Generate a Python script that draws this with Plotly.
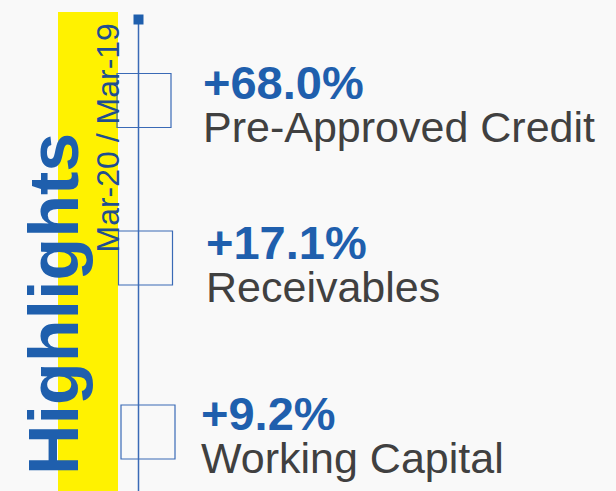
import plotly.graph_objects as go

# ---- data ----
categories = ["Pre-Approved Credit", "Receivables", "Working Capital"]
growth_pct = [68.0, 17.1, 9.2]
period_label = "Mar-20 / Mar-19"
title_text = "Highlights"

# ---- layout positions (pixel space) ----
W, H = 616, 491
box_x = [144, 145.5, 148]
box_y = [100.5, 258, 432]
block_y = [103, 263, 434]
text_x = [201, 204, 199]

BLUE = "#1F5FAD"
LINE_BLUE = "#3A6AB6"
GREY = "#404040"
FONT = "Liberation Sans, Arial, sans-serif"

fig = go.Figure()

# timeline line
fig.add_trace(go.Scatter(x=[138.5, 138.5], y=[19, H], mode="lines",
                         line=dict(color=LINE_BLUE, width=1.5),
                         hoverinfo="skip", showlegend=False))
# top marker
fig.add_trace(go.Scatter(x=[138.5], y=[19.5], mode="markers",
                         marker=dict(symbol="square", size=10, color=BLUE),
                         hoverinfo="skip", showlegend=False))
# open boxes per category
fig.add_trace(go.Scatter(x=box_x, y=box_y, mode="markers",
                         marker=dict(symbol="square-open", size=54,
                                     color=LINE_BLUE, line=dict(width=1.2, color=LINE_BLUE)),
                         hoverinfo="skip", showlegend=False))

shapes = [dict(type="rect", xref="x", yref="y", x0=58, x1=118, y0=12, y1=H,
               fillcolor="#FFF200", line=dict(width=0), layer="below")]

annotations = []
annotations.append(dict(x=54, y=304, xref="x", yref="y", text="<b>" + title_text + "</b>",
                        textangle=-90, showarrow=False, xanchor="center", yanchor="middle",
                        font=dict(family=FONT, size=70, color=BLUE)))
annotations.append(dict(x=107, y=138.5, xref="x", yref="y", text=period_label,
                        textangle=-90, showarrow=False, xanchor="center", yanchor="middle",
                        font=dict(family=FONT, size=32, color="#1F4E8F")))

for cat, g, tx, by in zip(categories, growth_pct, text_x, block_y):
    txt = ("<span style='font-size:47px;color:%s'><b>+%.1f%%</b></span><br>"
           "<span style='font-size:43px'>%s</span>") % (BLUE, g, cat)
    annotations.append(dict(x=tx, y=by, xref="x", yref="y", text=txt,
                            showarrow=False, xanchor="left", yanchor="middle", align="left",
                            font=dict(family=FONT, size=33, color=GREY)))

fig.update_layout(
    width=W, height=H, margin=dict(l=0, r=0, t=0, b=0),
    paper_bgcolor="#F9F9F9", plot_bgcolor="#F9F9F9",
    xaxis=dict(range=[0, W], visible=False, fixedrange=True),
    yaxis=dict(range=[H, 0], visible=False, fixedrange=True),
    shapes=shapes, annotations=annotations, showlegend=False,
)

fig.write_html("out.html", config={"displayModeBar": False},
               post_script="document.body.style.margin='0';document.body.style.overflow='hidden';")
